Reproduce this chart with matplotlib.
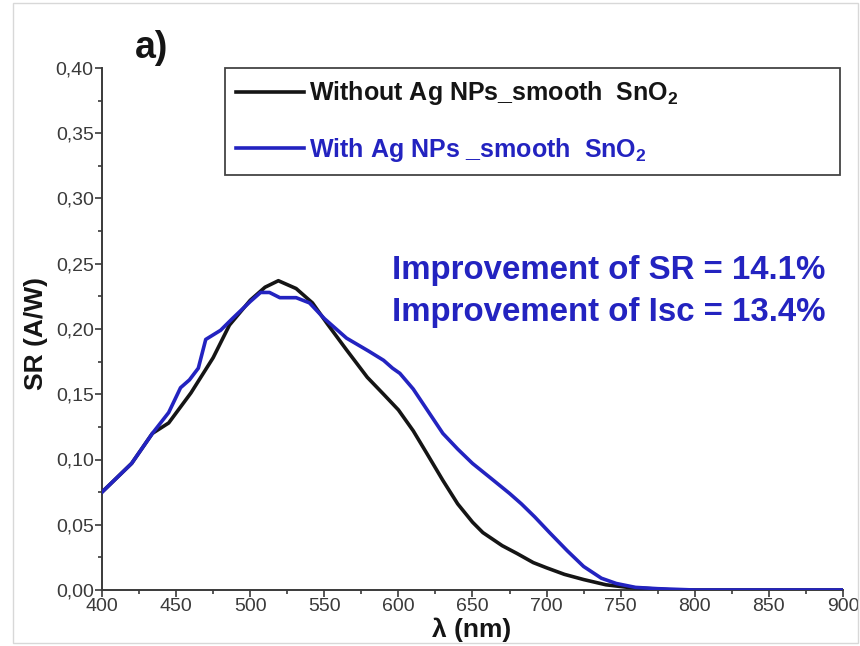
import numpy as np
import matplotlib
matplotlib.use("Agg")
import matplotlib.pyplot as plt
from matplotlib.ticker import MultipleLocator, FuncFormatter
from matplotlib.patches import Rectangle

BLACK = "#151515"
BLUE = "#2323c0"
TICK = "#3a3a3a"

plt.rcParams.update({
    "font.family": ["Liberation Sans", "DejaVu Sans"],
    "mathtext.fontset": "custom",
    "mathtext.rm": "Liberation Sans",
    "mathtext.bf": "Liberation Sans:bold",
})

# spectral response
wl_without = [400, 420, 434, 445, 460, 475, 486, 500, 510, 519, 531, 542, 552,
              565, 579, 590, 600, 610, 619, 630, 640, 650, 657, 670, 680, 691,
              700, 712, 725, 740, 755, 770, 785, 800, 900]
sr_without = [0.075, 0.097, 0.120, 0.128, 0.151, 0.178, 0.203, 0.222, 0.232, 0.237,
              0.231, 0.220, 0.204, 0.184, 0.163, 0.150, 0.138, 0.122, 0.105, 0.084,
              0.066, 0.052, 0.044, 0.034, 0.028, 0.021, 0.017, 0.012, 0.008, 0.004,
              0.002, 0.001, 0.0, 0.0, 0.0]

wl_with = [400, 420, 434, 445, 453, 459, 465, 470, 480, 488, 500, 507, 513, 520,
           531, 540, 550, 565, 580, 590, 596, 601, 610, 620, 630, 640, 650, 662,
           675, 683, 692, 702, 714, 725, 737, 747, 760, 775, 800, 900]
sr_with = [0.075, 0.097, 0.120, 0.136, 0.155, 0.161, 0.170, 0.192, 0.199, 0.208,
           0.221, 0.228, 0.228, 0.224, 0.224, 0.220, 0.208, 0.193, 0.183, 0.176,
           0.170, 0.166, 0.154, 0.137, 0.120, 0.108, 0.097, 0.086, 0.074, 0.066,
           0.056, 0.044, 0.030, 0.018, 0.009, 0.005, 0.002, 0.001, 0.0, 0.0]

label_without = r"Without Ag NPs_smooth  SnO$_\mathbf{2}$"
label_with = r"With Ag NPs _smooth  SnO$_\mathbf{2}$"
notes = ["Improvement of SR = 14.1%", "Improvement of Isc = 13.4%"]

fig = plt.figure(figsize=(8.6, 6.46), dpi=100)
ax = fig.add_axes([102 / 860, 56 / 646, 741 / 860, 522 / 646])

ax.plot(wl_without, sr_without, color=BLACK, lw=2.6, label=label_without, zorder=3)
ax.plot(wl_with, sr_with, color=BLUE, lw=2.6, label=label_with, zorder=4)

ax.set_xlim(400, 900)
ax.set_ylim(0, 0.40)
ax.xaxis.set_major_locator(MultipleLocator(50))
ax.xaxis.set_minor_locator(MultipleLocator(25))
ax.yaxis.set_major_locator(MultipleLocator(0.05))
ax.yaxis.set_minor_locator(MultipleLocator(0.025))
ax.yaxis.set_major_formatter(FuncFormatter(lambda v, p: f"{v:.2f}".replace(".", ",")))
ax.tick_params(which="major", direction="out", length=5, width=1.2,
               labelsize=14, labelcolor=TICK, color=TICK, pad=1)
ax.tick_params(which="minor", direction="out", length=3, width=1.2, color=TICK)

for side in ("top", "right"):
    ax.spines[side].set_visible(False)
for side in ("left", "bottom"):
    ax.spines[side].set_color(TICK)
    ax.spines[side].set_linewidth(1.4)

leg = ax.legend(loc="upper left", mode="expand", ncol=1,
                bbox_to_anchor=(225 / 860, 471 / 646, 615 / 860, 107 / 646),
                bbox_transform=fig.transFigure, borderaxespad=0,
                fancybox=False, edgecolor="#444444", framealpha=1,
                prop={"size": 18, "weight": "bold"},
                handlelength=2.7, handletextpad=0.2, labelspacing=1.15,
                borderpad=0.45)
leg.get_frame().set_linewidth(1.3)
for txt, c in zip(leg.get_texts(), [BLACK, BLUE]):
    txt.set_color(c)

fig.text(135 / 860, 1 - 48 / 646, "a)", fontsize=27, fontweight="bold",
         color=BLACK, va="center", ha="left")
for i, line in enumerate(notes):
    fig.text(392 / 860, 1 - (271 + 41 * i) / 646, line, fontsize=23.8,
             fontweight="bold", color=BLUE, va="center", ha="left")

fig.text(36 / 860, 1 - 334 / 646, "SR (A/W)", rotation=90, fontsize=19,
         fontweight="bold", color=BLACK, va="center", ha="center")
fig.text(472 / 860, 1 - 630 / 646, "λ (nm)", fontsize=19,
         fontweight="bold", color=BLACK, va="center", ha="center")

fig.patches.append(Rectangle((13 / 860, 3 / 646), 845 / 860, 640 / 646,
                             transform=fig.transFigure, fill=False,
                             edgecolor="#d8d8d8", lw=1.0))

fig.savefig("out.png", dpi=100, facecolor="white")
